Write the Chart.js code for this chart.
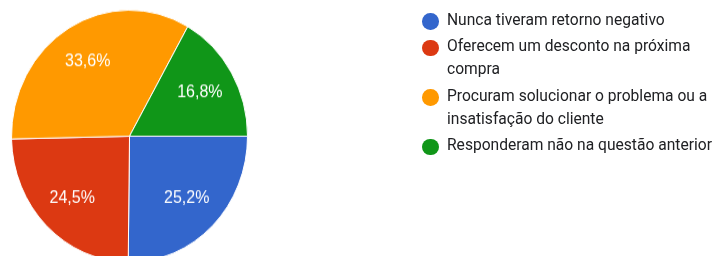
<!DOCTYPE html>
<html>
<head>
<meta charset="utf-8">
<script src="https://cdn.jsdelivr.net/npm/chart.js@4/dist/chart.umd.min.js"></script>
<style>
  html, body { margin: 0; padding: 0; background: #fff; }
  body { width: 717px; height: 256px; position: relative; overflow: hidden; }
  #wrap { position: absolute; left: 0; top: 0; width: 717px; height: 250px;
          transform: scaleY(1.068); transform-origin: 0 0; }
  #legend { position: absolute; left: 422px; top: 0; font-family: Roboto, "Liberation Sans", Arial, sans-serif;
            font-size: 15.6px; color: #202124; }
  .item { position: absolute; left: 0; white-space: nowrap; }
  .dot { position: absolute; left: 0; width: 16.5px; height: 16.5px; border-radius: 50%; }
  .txt { position: absolute; left: 25px; line-height: 23px; }
</style>
</head>
<body>
<div id="wrap"><canvas id="c" width="717" height="250"></canvas></div>
<div id="legend"></div>
<script>
// Categories (each label split into its displayed lines)
const categories = [
  ['Nunca tiveram retorno negativo'],
  ['Oferecem um desconto na próxima', 'compra'],
  ['Procuram solucionar o problema ou a', 'insatisfação do cliente'],
  ['Responderam não na questão anterior']
];
// Series values (percent)
const percentages = [25.2, 24.5, 33.6, 16.8];
const sliceColors = ['#3366cc', '#dc3912', '#ff9900', '#109618'];

const fmt = v => v.toFixed(1).replace('.', ',') + '%';

const sliceLabels = {
  id: 'sliceLabels',
  afterDatasetsDraw(chart) {
    const ctx = chart.ctx;
    const meta = chart.getDatasetMeta(0);
    ctx.save();
    ctx.fillStyle = '#ffffff';
    ctx.font = '16px "Liberation Sans", Arial, sans-serif';
    ctx.textAlign = 'center';
    ctx.textBaseline = 'middle';
    meta.data.forEach((arc, i) => {
      const p = arc.getProps(['x', 'y', 'startAngle', 'endAngle', 'outerRadius'], true);
      const mid = (p.startAngle + p.endAngle) / 2;
      const d = p.outerRadius * 0.69;
      ctx.fillText(fmt(chart.data.datasets[0].data[i]), p.x + Math.cos(mid) * d, p.y + Math.sin(mid) * d);
    });
    ctx.restore();
  }
};

new Chart(document.getElementById('c'), {
  type: 'pie',
  data: {
    labels: categories,
    datasets: [{
      data: percentages,
      backgroundColor: sliceColors,
      borderColor: '#ffffff',
      borderWidth: 1
    }]
  },
  options: {
    responsive: false,
    devicePixelRatio: 1,
    animation: false,
    rotation: 90,
    layout: { padding: { left: 11, right: 469, top: 9, bottom: 4 } },
    plugins: { legend: { display: false }, tooltip: { enabled: false } }
  },
  plugins: [sliceLabels]
});

// HTML legend built from the same arrays
(function buildLegend() {
  const legend = document.getElementById('legend');
  let y = 20; // center of first line
  categories.forEach((lines, i) => {
    const item = document.createElement('div');
    item.className = 'item';
    item.style.top = (y - 11.5) + 'px';
    const dot = document.createElement('div');
    dot.className = 'dot';
    dot.style.background = sliceColors[i];
    dot.style.top = (11.5 - 8.25 + 1.5) + 'px';
    const txt = document.createElement('div');
    txt.className = 'txt';
    txt.innerHTML = lines.map(l => l.replace(/&/g, '&amp;').replace(/</g, '&lt;')).join('<br>');
    item.appendChild(dot);
    item.appendChild(txt);
    legend.appendChild(item);
    y += lines.length * 23 + 3.5;
  });
})();
</script>
</body>
</html>
